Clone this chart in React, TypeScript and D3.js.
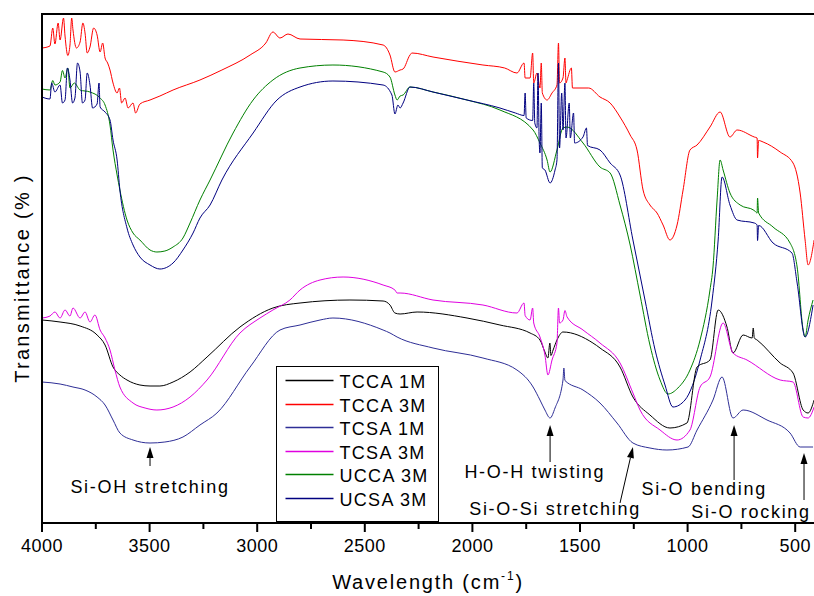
import React, { useEffect, useRef } from 'react';
import * as d3 from 'd3';

// FTIR spectra, [wavenumber cm-1, transmittance (arbitrary %)]
const tcca1M: [number, number][] = [
  [4000, 40.6], [3916, 40.2], [3823, 39.4], [3744, 37.6], [3707, 35.6], [3670, 31.2], [3638, 29.6],
  [3605, 28.6], [3545, 27.6], [3498, 27.4], [3452, 27.4], [3391, 28.2], [3312, 30.2], [3233, 33.2],
  [3080, 39.2], [2927, 43], [2801, 44], [2569, 44.6], [2415, 44.4], [2383, 43.6], [2360, 42],
  [2336, 41.8], [2257, 42.2], [2025, 41], [1872, 39.6], [1732, 38], [1686, 36.6], [1663, 34.2],
  [1649, 33], [1640, 36], [1635, 33.5], [1625, 34.6], [1607, 36.6], [1579, 38.2], [1440, 36],
  [1407, 35], [1314, 31.2], [1254, 25.2], [1175, 21.6], [1082, 19], [1003, 20], [956, 31.2],
  [896, 32.6], [858, 42.6], [817, 39.2], [789, 34], [742, 37.6], [700, 37], [695, 39], [690, 37],
  [677, 36.6], [570, 32], [510, 30], [463, 22.6], [440, 22], [412, 24.6],
];

const tcca3M: [number, number][] = [
  [4000, 95], [3963, 95.4], [3950, 99], [3940, 95.8], [3925, 100], [3916, 96.6], [3900, 101],
  [3893, 97.4], [3880, 93.5], [3870, 95.6], [3862, 101], [3856, 98.6], [3840, 95], [3823, 96.2],
  [3810, 100], [3800, 98], [3790, 94], [3777, 95.2], [3760, 99], [3744, 97.6], [3730, 94.2],
  [3718, 96], [3707, 93], [3695, 92], [3684, 90.6], [3670, 88], [3651, 86], [3640, 87], [3630, 84],
  [3614, 85], [3600, 83], [3577, 84], [3565, 82], [3545, 83.8], [3498, 84.6], [3452, 85.4],
  [3391, 86.6], [3266, 88.6], [3164, 90.6], [3033, 93.6], [2960, 96], [2927, 98.2], [2894, 97],
  [2857, 97.8], [2801, 96.8], [2601, 96.6], [2415, 95.6], [2383, 93.6], [2360, 90.2], [2336, 90.6],
  [2322, 90.8], [2290, 93.6], [2281, 94], [2183, 93.2], [1951, 91.6], [1850, 91], [1793, 90],
  [1760, 92], [1755, 89], [1732, 89], [1720, 94], [1715, 88], [1700, 90], [1686, 87], [1680, 92],
  [1675, 86], [1653, 84.6], [1630, 86], [1607, 87.6], [1600, 96], [1595, 88], [1579, 89],
  [1570, 93], [1565, 88], [1560, 88.6], [1540, 91], [1535, 87], [1486, 87], [1460, 87],
  [1407, 85.2], [1360, 84], [1314, 81.2], [1267, 77.6], [1235, 74.6], [1207, 66.6], [1175, 63.6],
  [1142, 62], [1114, 59.6], [1082, 56.6], [1049, 59.6], [1021, 66.6], [989, 74.6], [956, 75.6],
  [896, 79.2], [849, 82.2], [803, 77.2], [770, 78.6], [690, 77.2], [677, 77], [675, 73],
  [670, 76.5], [649, 76.2], [570, 74.2], [510, 72], [477, 66], [454, 56.6], [440, 51.6], [412, 56.6],
];

const tcsa1M: [number, number][] = [
  [4000, 28.2], [3916, 27.8], [3856, 27.2], [3800, 26.6], [3744, 25.2], [3707, 23.6], [3670, 20.6],
  [3638, 18], [3577, 16.6], [3498, 16], [3429, 16.2], [3345, 17.2], [3266, 19.6], [3187, 22],
  [3033, 31.2], [2894, 38.6], [2801, 39.6], [2708, 40.6], [2648, 41], [2415, 38.6], [2383, 38],
  [2350, 37.2], [2183, 35], [1951, 33], [1793, 30.6], [1718, 27.2], [1686, 24.6], [1663, 22.6],
  [1639, 21], [1616, 23], [1579, 28.6], [1575, 31], [1570, 28.5], [1486, 26.6], [1407, 24],
  [1328, 20], [1254, 16], [1175, 15], [1096, 14.6], [998, 15.2], [956, 18.6], [882, 24.6],
  [840, 29.2], [789, 21], [742, 22.6], [631, 20.6], [524, 18], [477, 15.2], [417, 15.2],
];

const tcsa3M: [number, number][] = [
  [4000, 41], [3963, 41.4], [3940, 42.2], [3916, 41], [3893, 42.6], [3870, 41.4], [3856, 43],
  [3823, 41], [3800, 42.2], [3777, 40.2], [3754, 41.6], [3730, 38.6], [3707, 37], [3684, 34.6],
  [3661, 30.6], [3638, 27.2], [3577, 24], [3521, 23], [3466, 22.6], [3391, 23.2], [3312, 25.2],
  [3233, 28.6], [3080, 38], [2987, 41], [2927, 42.6], [2848, 44.6], [2801, 46.6], [2708, 48.6],
  [2601, 49.2], [2415, 47.6], [2360, 46.6], [2350, 46], [2336, 46], [2183, 44.6], [1951, 43.6],
  [1793, 42], [1760, 44], [1755, 41.5], [1732, 40.6], [1720, 43], [1715, 40], [1686, 37.2],
  [1663, 33.6], [1649, 29.6], [1630, 32.6], [1607, 36], [1600, 43], [1595, 40], [1579, 40.6],
  [1570, 42.5], [1560, 41.2], [1486, 38.6], [1407, 36], [1314, 32], [1254, 26], [1221, 22.6],
  [1128, 18.6], [1049, 16.6], [989, 18.6], [942, 27.2], [896, 29.2], [835, 40], [789, 34],
  [724, 32.6], [570, 28.6], [510, 28.2], [463, 21.2], [440, 21], [412, 23.2],
];

const ucca3M: [number, number][] = [
  [4000, 86.8], [3963, 86.6], [3950, 88.5], [3940, 87.6], [3916, 88.2], [3905, 90.5], [3893, 89],
  [3880, 91], [3870, 87], [3850, 88], [3823, 86.6], [3777, 86.2], [3730, 85], [3707, 83.6],
  [3684, 79.6], [3670, 74.6], [3651, 69.6], [3638, 66.6], [3605, 60.6], [3577, 58], [3545, 56.6],
  [3498, 54.6], [3466, 54.2], [3429, 54.4], [3391, 55.2], [3345, 57], [3312, 60], [3266, 64.6],
  [3219, 68.6], [3112, 78], [3019, 84.6], [2927, 88.6], [2801, 91], [2648, 91.6], [2415, 90.2],
  [2383, 89.2], [2360, 85.6], [2350, 84.6], [2336, 85.4], [2322, 85.6], [2290, 87.2], [2183, 86.2],
  [2025, 84.6], [1872, 82.6], [1718, 78.6], [1686, 76], [1653, 72.6], [1639, 70.2], [1607, 74.6],
  [1579, 79], [1560, 79.2], [1486, 76], [1407, 71.2], [1360, 70], [1314, 63.6], [1267, 55.6],
  [1221, 45.6], [1175, 35.6], [1128, 28.6], [1091, 25.8], [1045, 27], [989, 30.6], [942, 36.6],
  [896, 46.6], [882, 51.2], [863, 64.6], [849, 72.6], [835, 70.6], [803, 66], [756, 63.6],
  [690, 62.5], [677, 62], [675, 65], [670, 62], [603, 59.2], [524, 56], [491, 51.2], [463, 38.6],
  [454, 37.2], [440, 40.6], [417, 44.6],
];

const ucsa3M: [number, number][] = [
  [4000, 85.2], [3963, 84.8], [3955, 88], [3940, 86.2], [3916, 87.6], [3905, 84], [3893, 84.6],
  [3882, 91], [3870, 88.6], [3858, 84], [3847, 85], [3835, 92], [3823, 90.2], [3812, 84],
  [3800, 84.6], [3790, 90], [3777, 87.6], [3765, 83], [3744, 83.8], [3735, 88], [3730, 83.2],
  [3707, 82.2], [3684, 80.6], [3670, 76.6], [3651, 72.6], [3638, 66.6], [3605, 59], [3577, 55.6],
  [3545, 53.2], [3498, 51.6], [3452, 50.8], [3391, 52], [3345, 54.6], [3298, 58], [3266, 61],
  [3219, 63.6], [3164, 68.6], [3019, 78], [2908, 84.6], [2801, 87.2], [2648, 88.4], [2415, 87.6],
  [2374, 85.6], [2360, 81.8], [2346, 83.6], [2336, 83], [2322, 84], [2290, 87.2], [2183, 86.2],
  [2025, 84.6], [1872, 83], [1800, 82], [1760, 81.5], [1755, 86], [1750, 81], [1720, 80.5],
  [1715, 88], [1710, 80], [1700, 79], [1695, 90], [1690, 77], [1686, 74], [1680, 84], [1675, 71],
  [1663, 70.6], [1639, 68], [1616, 70.6], [1607, 72.6], [1600, 92], [1595, 75], [1585, 86],
  [1579, 78.6], [1570, 88], [1565, 77], [1550, 84], [1545, 77], [1530, 82], [1525, 76],
  [1486, 77.2], [1470, 79], [1465, 75.5], [1407, 74.6], [1360, 72], [1314, 69.6], [1254, 56.6],
  [1198, 44.6], [1151, 34.6], [1105, 27.6], [1068, 23.2], [1012, 24.6], [942, 32.6], [886, 44.6],
  [858, 56.6], [840, 69.2], [803, 63.6], [770, 60.6], [690, 60], [677, 59.6], [675, 56.5],
  [670, 59.5], [603, 56], [515, 54], [491, 48], [454, 37.2], [417, 43.6],
];

const seriesNames = ['TCCA 1M', 'TCCA 3M', 'TCSA 1M', 'TCSA 3M', 'UCCA 3M', 'UCSA 3M'];
const seriesData = [tcca1M, tcca3M, tcsa1M, tcsa3M, ucca3M, ucsa3M];
const seriesColors = ['#000000', '#ff0000', '#2e2e96', '#e000e0', '#008000', '#000080'];

const majorTicks = [4000, 3500, 3000, 2500, 2000, 1500, 1000, 500];
const minorTicks = [3750, 3250, 2750, 2250, 1750, 1250, 750];

// band labels: arrow tip / tail in data units, text anchor in data units
const bandLabels = ['Si-OH stretching', 'H-O-H twisting', 'Si-O-Si stretching', 'Si-O bending', 'Si-O rocking'];
const bandTip: [number, number][] = [[3498, 15.2], [1639, 19.6], [1254, 15.2], [784, 19.6], [459, 14]];
const bandTail: [number, number][] = [[3498, 11.4], [1639, 12.2], [1314, 4], [784, 8.6], [459, 4.6]];
const bandText: [number, number][] = [[3498, 6], [1710, 9], [1616, 1.6], [923, 5.6], [705, 1]];

const App = () => {
  const ref = useRef<SVGSVGElement>(null);

  useEffect(() => {
    const height = 596;
    const margin = { top: 14, left: 42, bottom: 73 };
    const font = '"Liberation Sans", Arial, sans-serif';

    const svg = d3.select(ref.current);
    svg.selectAll('*').remove();

    const x = d3.scaleLinear().domain([4000, 400]).range([margin.left, margin.left + 3600 / 500 * 107.6]);
    const y = d3.scaleLinear().domain([0, 101.8]).range([height - margin.bottom, margin.top]);

    svg.append('defs').append('clipPath').attr('id', 'plot-clip')
      .append('rect')
      .attr('x', x(4000)).attr('y', y(101.8))
      .attr('width', x(400) - x(4000)).attr('height', y(0) - y(101.8));

    const line = d3.line<[number, number]>()
      .x(d => x(d[0]))
      .y(d => y(d[1]))
      .curve(d3.curveMonotoneX);

    const plot = svg.append('g').attr('clip-path', 'url(#plot-clip)');
    // draw in an order that keeps the darker traces on top
    [1, 4, 5, 0, 3, 2].forEach(i => {
      const pts = d3.sort(seriesData[i], (a, b) => b[0] - a[0]);
      plot.append('path')
        .attr('d', line(pts))
        .attr('fill', 'none')
        .attr('stroke', seriesColors[i])
        .attr('stroke-width', 1)
        .attr('stroke-linejoin', 'round');
    });

    // frame
    svg.append('rect')
      .attr('x', x(4000)).attr('y', y(101.8))
      .attr('width', x(400) - x(4000)).attr('height', y(0) - y(101.8))
      .attr('fill', 'none').attr('stroke', '#000').attr('stroke-width', 2);

    // x axis
    const xAxis = svg.append('g');
    xAxis.selectAll('line.major')
      .data(majorTicks).enter().append('line')
      .attr('class', 'major')
      .attr('x1', d => x(d)).attr('x2', d => x(d))
      .attr('y1', y(0)).attr('y2', y(0) + 9)
      .attr('stroke', '#000').attr('stroke-width', 2);
    xAxis.selectAll('line.minor')
      .data(minorTicks).enter().append('line')
      .attr('class', 'minor')
      .attr('x1', d => x(d)).attr('x2', d => x(d))
      .attr('y1', y(0)).attr('y2', y(0) + 6)
      .attr('stroke', '#000').attr('stroke-width', 2);
    xAxis.selectAll('text')
      .data(majorTicks).enter().append('text')
      .attr('x', d => x(d)).attr('y', y(0) + 29)
      .attr('text-anchor', 'middle')
      .attr('font-family', font).attr('font-size', 18).attr('letter-spacing', 0.5)
      .text(d => d);

    // axis titles
    const xt = svg.append('text')
      .attr('x', 428).attr('y', 589)
      .attr('text-anchor', 'middle')
      .attr('font-family', font).attr('font-size', 20).attr('letter-spacing', 1.8);
    xt.append('tspan').text('Wavelength (cm');
    xt.append('tspan').attr('font-size', 12).attr('dy', -9).text('-1');
    xt.append('tspan').attr('dy', 9).text(')');

    svg.append('text')
      .attr('transform', `translate(29, 278) rotate(-90)`)
      .attr('text-anchor', 'middle')
      .attr('font-family', font).attr('font-size', 20).attr('letter-spacing', 2.3)
      .text('Transmittance (% )');

    // band annotations
    const ann = svg.append('g');
    bandLabels.forEach((label, i) => {
      const [tx, ty] = [x(bandTip[i][0]), y(bandTip[i][1])];
      const [bx, by] = [x(bandTail[i][0]), y(bandTail[i][1])];
      const ang = Math.atan2(ty - by, tx - bx);
      const hl = 11;
      const hw = 3.5;
      const baseX = tx - hl * Math.cos(ang);
      const baseY = ty - hl * Math.sin(ang);
      ann.append('line')
        .attr('x1', bx).attr('y1', by).attr('x2', baseX).attr('y2', baseY)
        .attr('stroke', '#000').attr('stroke-width', 1);
      ann.append('path')
        .attr('d', `M${tx},${ty}L${baseX + hw * Math.sin(ang)},${baseY - hw * Math.cos(ang)}L${baseX - hw * Math.sin(ang)},${baseY + hw * Math.cos(ang)}Z`)
        .attr('fill', '#000');
      ann.append('text')
        .attr('x', x(bandText[i][0])).attr('y', y(bandText[i][1]))
        .attr('text-anchor', 'middle')
        .attr('font-family', font).attr('font-size', 18).attr('letter-spacing', 1.7)
        .text(label);
    });

    // legend
    const legend = svg.append('g').attr('transform', 'translate(276.5, 366.5)');
    legend.append('rect')
      .attr('width', 162).attr('height', 155)
      .attr('fill', '#fff').attr('stroke', '#000').attr('stroke-width', 1);
    seriesNames.forEach((name, i) => {
      const ly = Math.round(14 + i * 23.5);
      legend.append('line')
        .attr('x1', 9).attr('x2', 57).attr('y1', ly).attr('y2', ly)
        .style('stroke', seriesColors[i]).style('stroke-width', 1.5);
      legend.append('text')
        .attr('x', 63).attr('y', ly + 7)
        .attr('font-family', font).attr('font-size', 18).attr('letter-spacing', 1.3)
        .text(name);
    });
  }, []);

  return (
    <svg
      ref={ref}
      width={814}
      height={596}
      style={{ position: 'absolute', left: 0, top: 0, background: '#fff' }}
    />
  );
};

export default App;
